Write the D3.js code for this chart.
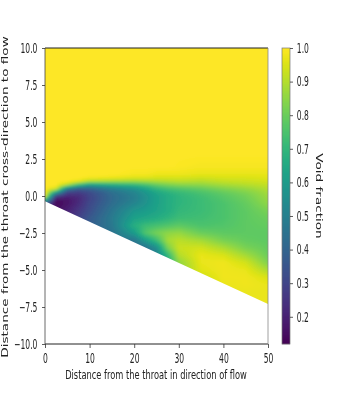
<!DOCTYPE html>
<html>
<head>
<meta charset="utf-8">
<script src="https://cdn.jsdelivr.net/npm/d3@7"></script>
<style>
html,body{margin:0;padding:0;background:#fff;overflow:hidden}
svg{display:block;filter:blur(0.35px)}
text{font-family:"DejaVu Sans",sans-serif;font-size:10px;fill:#222}
</style>
</head>
<body>
<svg id="chart" width="359" height="393"></svg>
<script>
const xTicks = [0,10,20,30,40,50];
const yTicks = [-10,-7.5,-5,-2.5,0,2.5,5,7.5,10];
const barTicks = [0.2,0.3,0.4,0.5,0.6,0.7,0.8,0.9,1.0];
const xTitle = "Distance from the throat in direction of flow";
const yTitle = "Distance from the throat cross-direction to flow";
const barTitle = "Void fraction";
const voidMin = 0.119, voidMax = 1.0;
const wallX = [0,50];
const wallY = [-0.35,-7.3];
const stations = [0,2.5,5,7.5,10,15,20,22.5,25,27.5,30,35,40,45,50];
const yLevels = [3,2,1.5,1.25,1,.75,.5,.25,0,-.25,-.5,-1,-1.5,-2,-2.5,-3,-3.5,-4,-4.5,-5,-5.5,-6,-6.5,-7,-7.5];
const voidAtX0  = [1,1,1,1,1,1,1,1,.98,.7,.35,.35,.35,.35,.35,.35,.35,.35,.35,.35,.35,.35,.35,.35,.35];
const voidAtX2  = [1,1,1,1,1,1,.95,.62,.28,.16,.13,.16,.16,.16,.16,.16,.16,.16,.16,.16,.16,.16,.16,.16,.16];
const voidAtX5  = [1,1,1,1,1,.9,.5,.3,.22,.17,.17,.2,.22,.22,.22,.22,.22,.22,.22,.22,.22,.22,.22,.22,.22];
const voidAtX7  = [1,1,1,1,.97,.72,.38,.28,.23,.22,.23,.26,.29,.29,.29,.29,.29,.29,.29,.29,.29,.29,.29,.29,.29];
const voidAtX10 = [1,1,1,.99,.9,.6,.4,.32,.3,.3,.31,.33,.36,.38,.38,.38,.38,.38,.38,.38,.38,.38,.38,.38,.38];
const voidAtX15 = [1,1,1,.98,.88,.66,.5,.44,.42,.42,.43,.46,.48,.47,.45,.45,.45,.45,.45,.45,.45,.45,.45,.45,.45];
const voidAtX20 = [1,1,.99,.96,.87,.7,.57,.52,.5,.5,.52,.58,.62,.67,.6,.46,.42,.42,.42,.42,.42,.42,.42,.42,.42];
const voidAtX22 = [1,1,.99,.96,.88,.74,.63,.58,.56,.56,.57,.6,.64,.72,.76,.6,.45,.42,.42,.42,.42,.42,.42,.42,.42];
const voidAtX25 = [1,1,.98,.95,.89,.79,.7,.64,.62,.62,.62,.63,.66,.74,.82,.72,.55,.5,.5,.5,.5,.5,.5,.5,.5];
const voidAtX27 = [1,1,.98,.95,.9,.82,.74,.68,.66,.66,.66,.66,.69,.76,.85,.88,.82,.7,.65,.65,.65,.65,.65,.65,.65];
const voidAtX30 = [1,.995,.98,.95,.91,.84,.76,.71,.69,.69,.69,.7,.72,.78,.86,.91,.93,.9,.85,.85,.85,.85,.85,.85,.85];
const voidAtX35 = [1,.99,.97,.94,.9,.85,.79,.75,.73,.72,.72,.72,.73,.75,.8,.88,.94,.97,.97,.96,.93,.93,.93,.93,.93];
const voidAtX40 = [1,.99,.97,.95,.92,.88,.83,.79,.77,.76,.75,.75,.75,.76,.78,.82,.89,.95,.98,.98,.98,.97,.97,.97,.97];
const voidAtX45 = [1,.99,.97,.95,.93,.9,.86,.83,.81,.8,.79,.78,.78,.78,.78,.79,.82,.88,.94,.97,.98,.98,.97,.97,.97];
const voidAtX50 = [1,.99,.97,.96,.94,.92,.9,.88,.87,.86,.85,.82,.8,.79,.78,.78,.79,.8,.83,.89,.95,.97,.97,.97,.97];
const voidTable = [voidAtX0,voidAtX2,voidAtX5,voidAtX7,voidAtX10,voidAtX15,voidAtX20,voidAtX22,voidAtX25,voidAtX27,voidAtX30,voidAtX35,voidAtX40,voidAtX45,voidAtX50];

const plot = {l:45,r:268,t:48,b:344};
const bar = {l:282,r:290};
const SX = 0.76, SY = 1.32;

const svg = d3.select("#chart");
const x = d3.scaleLinear().domain([0,50]).range([plot.l,plot.r]);
const y = d3.scaleLinear().domain([-10,10]).range([plot.b,plot.t]);
const c = d3.scaleLinear().domain([voidMin,voidMax]).range([plot.b,plot.t]);
const color = d3.scaleSequential(d3.interpolateViridis).domain([voidMin,voidMax]);

// field image
const profiles = voidTable.map(col => d3.scaleLinear().domain(yLevels.slice().reverse()).range(col.slice().reverse()).clamp(true));
function fieldAt(xv,yv){
  const xc = Math.max(0,Math.min(50,xv));
  let i = Math.min(stations.length-2, Math.max(0,d3.bisectRight(stations,xc)-1));
  const t = (xc-stations[i])/(stations[i+1]-stations[i]);
  return profiles[i](yv)*(1-t)+profiles[i+1](yv)*t;
}
const PAD = 8;
const W = plot.r-plot.l, H = plot.b-plot.t;
const cv = document.createElement("canvas"); cv.width=W+2*PAD; cv.height=H+2*PAD;
const ctx = cv.getContext("2d");
for(let py=0;py<cv.height;py++){
  for(let px=0;px<cv.width;px++){
    ctx.fillStyle = color(fieldAt(x.invert(plot.l-PAD+px+.5), y.invert(plot.t-PAD+py+.5)));
    ctx.fillRect(px,py,1,1);
  }
}
const wall = d3.scaleLinear().domain(wallX).range(wallY);
const clipPts = [[0,10],[50,10],[50,wall(50)],[0,wall(0)]].map(d=>[x(d[0]),y(d[1])]);
svg.append("clipPath").attr("id","flow").append("polygon").attr("points",clipPts.join(" "));
const smooth = svg.append("filter").attr("id","smooth").attr("x","0").attr("y","0").attr("width","1").attr("height","1");
smooth.append("feGaussianBlur").attr("stdDeviation",1.6);
svg.append("g").attr("clip-path","url(#flow)").append("image")
  .attr("x",plot.l-PAD).attr("y",plot.t-PAD).attr("width",cv.width).attr("height",cv.height)
  .attr("preserveAspectRatio","none").attr("href",cv.toDataURL()).attr("filter","url(#smooth)");

// colour bar
const barSteps = d3.range(plot.t,plot.b);
svg.append("g").selectAll("rect").data(barSteps).join("rect")
  .attr("x",bar.l).attr("width",bar.r-bar.l).attr("y",d=>d).attr("height",1.2)
  .attr("fill",d=>color(c.invert(d+.5)));
svg.append("rect").attr("x",bar.l).attr("y",plot.t).attr("width",bar.r-bar.l).attr("height",H)
  .attr("fill","none").attr("stroke","#777").attr("stroke-width",.7);

// spines
const hLine = (a,b,yy)=>svg.append("line").attr("x1",a).attr("x2",b).attr("y1",yy).attr("y2",yy).attr("stroke","#222").attr("stroke-width",1);
const vLine = (xx,col)=>svg.append("line").attr("x1",xx).attr("x2",xx).attr("y1",plot.t).attr("y2",plot.b).attr("stroke",col).attr("stroke-width",.8);
hLine(plot.l,plot.r,plot.t); hLine(plot.l,plot.r,plot.b);
vLine(plot.l,"#444"); vLine(plot.r,"#888");

// axes
const gx = svg.append("g").attr("transform",`translate(0,${plot.b})`)
  .call(d3.axisBottom(x).tickValues(xTicks).tickFormat(d3.format("d")).tickSize(4).tickPadding(3));
const gy = svg.append("g").attr("transform",`translate(${plot.l},0)`)
  .call(d3.axisLeft(y).tickValues(yTicks).tickFormat(d=>d3.format(".1f")(d)).tickSize(3).tickPadding(6));
const gc = svg.append("g").attr("transform",`translate(${bar.r},0)`)
  .call(d3.axisRight(c).tickValues(barTicks).tickFormat(d3.format(".1f")).tickSize(3).tickPadding(6));
[gx,gy,gc].forEach(g=>{
  g.select(".domain").remove();
  g.selectAll(".tick line").attr("stroke","#333").attr("stroke-width",.8);
  g.selectAll(".tick text").attr("font-size",null).attr("font-family",null).attr("fill",null)
    .attr("transform",`scale(${SX},${SY})`);
});
gx.selectAll(".tick text").attr("y",7.5);
gy.selectAll(".tick text").attr("x",-10);
gc.selectAll(".tick text").attr("x",9);

// titles
svg.append("text").attr("text-anchor","middle")
  .attr("transform",`translate(156,379) scale(0.83,1.3)`).text(xTitle);
svg.append("text").attr("text-anchor","middle")
  .attr("transform",`translate(8,197) rotate(-90) scale(1.36,0.8)`).text(yTitle);
svg.append("text").attr("text-anchor","middle")
  .attr("transform",`translate(316,196) rotate(90) scale(1.36,0.8)`).text(barTitle);
</script>
</body>
</html>
